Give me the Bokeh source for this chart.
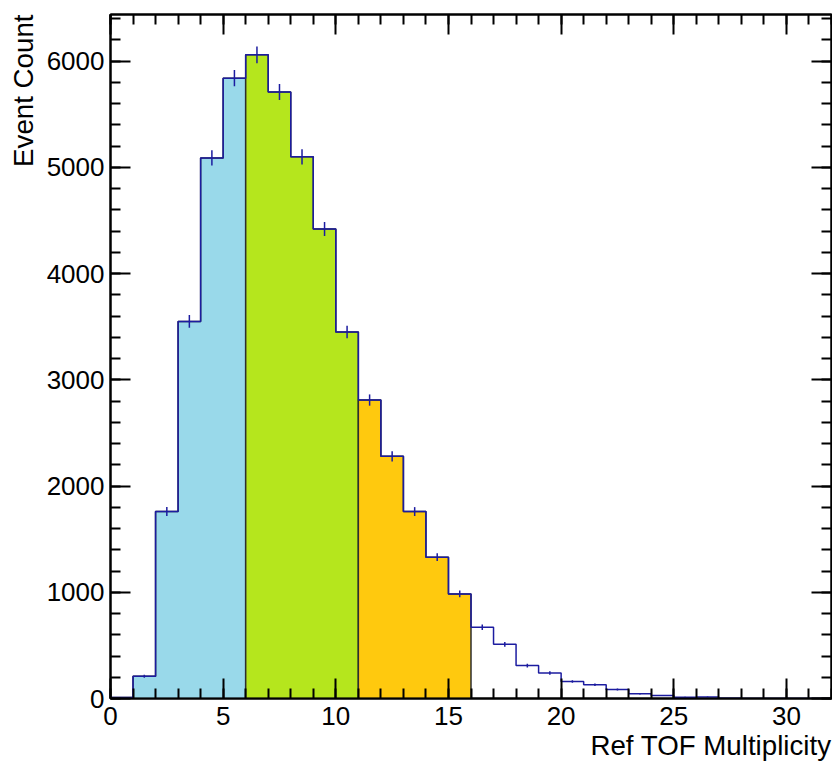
import math
from bokeh.plotting import figure
from bokeh.models import Range1d, LinearAxis, SingleIntervalTicker, Title, CustomJSTickFormatter
from bokeh.embed import file_html
from bokeh.resources import INLINE

# ---- data ----
bin_low = list(range(0, 32))          # bin lower edges, width 1
counts = [10, 210, 1760, 3550, 5090, 5840, 6060, 5710, 5100, 4420,
          3450, 2810, 2280, 1760, 1330, 985, 670, 510, 310, 240,
          160, 130, 85, 45, 28, 12, 15, 2, 1, 1, 0, 0]
region_start = [0, 6, 11]
region_end = [6, 11, 16]
region_color = ["#99D9EA", "#B5E61D", "#FFC90E"]
x_title = "Ref TOF Multiplicity"
y_title = "Event Count"
x_min, x_max = 0, 32
y_min, y_max = 0, 6440

FONT = "Liberation Sans"
BLUE = "#1c1ca0"

p = figure(width=832, height=766, x_range=Range1d(x_min, x_max), y_range=Range1d(y_min, y_max),
           output_backend="svg", toolbar_location=None,
           min_border_left=110, min_border_right=1, min_border_top=14, min_border_bottom=68,
           x_axis_type=None, y_axis_type=None)
p.grid.visible = False
p.outline_line_color = "black"
p.outline_line_width = 2
p.background_fill_color = "white"
p.border_fill_color = "white"


def style_axis(ax, show_labels):
    ax.major_tick_in = 20
    ax.major_tick_out = 0
    ax.minor_tick_in = 10
    ax.minor_tick_out = 0
    ax.major_tick_line_width = 2
    ax.minor_tick_line_width = 2
    ax.axis_line_width = 2
    ax.axis_line_color = "black"
    ax.major_tick_line_color = "black"
    ax.minor_tick_line_color = "black"
    if show_labels:
        ax.major_label_text_font = FONT
        ax.major_label_text_font_size = "26px"
        ax.major_label_text_color = "black"
    else:
        ax.formatter = CustomJSTickFormatter(code="return ''")
        ax.major_label_text_font_size = "1px"
        ax.major_label_standoff = 0


xb = LinearAxis(ticker=SingleIntervalTicker(interval=5, num_minor_ticks=5))
yl = LinearAxis(ticker=SingleIntervalTicker(interval=1000, num_minor_ticks=5))
xt = LinearAxis(ticker=SingleIntervalTicker(interval=5, num_minor_ticks=5))
yr = LinearAxis(ticker=SingleIntervalTicker(interval=1000, num_minor_ticks=5))
style_axis(xb, True)
style_axis(yl, True)
style_axis(xt, False)
style_axis(yr, False)
xb.major_label_standoff = 8
yl.major_label_standoff = 6
p.add_layout(xb, "below")
p.add_layout(yl, "left")
p.add_layout(xt, "above")
p.add_layout(yr, "right")

# axis titles (ROOT style: at the ends)
p.add_layout(Title(text=x_title, align="right", text_font=FONT, text_font_size="27.7px",
                   text_font_style="normal", text_color="black", standoff=0, offset=0), "below")
p.add_layout(Title(text=y_title, align="right", text_font=FONT, text_font_size="27.7px",
                   text_font_style="normal", text_color="black", standoff=9, offset=0), "left")

# filled regions
for s, e, c in zip(region_start, region_end, region_color):
    xs, ys = [s], [0]
    for lo, n in zip(bin_low, counts):
        if s <= lo < e:
            xs += [lo, lo + 1]
            ys += [n, n]
    xs.append(e)
    ys.append(0)
    p.patch(xs, ys, fill_color=c, line_color="#2e2e2e", line_width=1.5)

# full histogram outline
hx, hy = [bin_low[0]], [0]
for lo, n in zip(bin_low, counts):
    hx += [lo, lo + 1]
    hy += [n, n]
p.line(hx, hy, line_color=BLUE, line_width=1.5)

# error bars
centers = [lo + 0.5 for lo in bin_low]
err_lo = [n - math.sqrt(n) for n in counts]
err_hi = [n + math.sqrt(n) for n in counts]
p.segment(x0=centers, y0=err_lo, x1=centers, y1=err_hi, line_color=BLUE, line_width=1.5)

open("out.html", "w").write(file_html(p, INLINE))
